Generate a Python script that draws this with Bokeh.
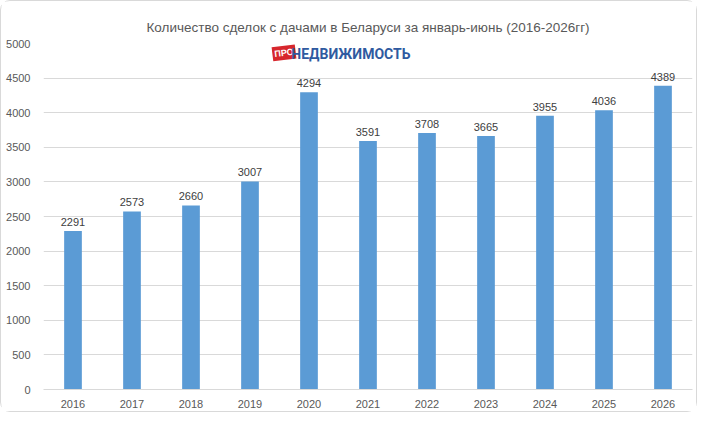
from bokeh.plotting import figure
from bokeh.models import ColumnDataSource, LabelSet, Label, SingleIntervalTicker, Range1d
from bokeh.core.properties import value
from bokeh.embed import file_html
from bokeh.resources import INLINE

years = ["2016", "2017", "2018", "2019", "2020", "2021", "2022", "2023", "2024", "2025", "2026"]
deals = [2291, 2573, 2660, 3007, 4294, 3591, 3708, 3665, 3955, 4036, 4389]
title_text = "Количество сделок с дачами в Беларуси за январь-июнь (2016-2026гг)"

source = ColumnDataSource(data=dict(year=years, deals=deals, label=[str(v) for v in deals]))

FONT = "Liberation Sans"
p = figure(x_range=years, y_range=Range1d(0, 5000),
           width=697, height=412,
           output_backend="svg", toolbar_location=None,
           min_border_left=42, min_border_right=6, min_border_bottom=24, min_border_top=42)

p.title.text = title_text
p.title.align = "center"
p.title.text_font = FONT
p.title.text_font_size = "13.5px"
p.title.text_font_style = "normal"
p.title.text_color = "#595959"
p.title.standoff = 18

p.vbar(x="year", top="deals", width=0.3, source=source, color="#5b9bd5", line_color=None)

labels = LabelSet(x="year", y="deals", text="label", source=source, y_offset=5,
                  text_align="center", text_font=value(FONT), text_font_size=value("11px"),
                  text_color="#404040")
p.add_layout(labels)

# logo
p.add_layout(Label(x=3.88, y=4845, text="ПРО", text_font=FONT, text_font_style="bold",
                   text_font_size="9px", text_color="white", background_fill_color="#d7272d",
                   text_align="left", text_baseline="middle", angle=0.12, padding=2))
p.add_layout(Label(x=4.2, y=4845, text="НЕДВИЖИМОСТЬ", text_font="Roboto",
                   text_font_style="bold", text_font_size="14px", text_color="#2f5aa0",
                   text_align="left", text_baseline="middle"))

p.yaxis.ticker = SingleIntervalTicker(interval=500)
p.yaxis.axis_line_color = None
p.yaxis.major_tick_line_color = None
p.yaxis.minor_tick_line_color = None
p.yaxis.major_tick_out = 0
p.yaxis.major_tick_in = 0
p.yaxis.major_label_text_font = FONT
p.yaxis.major_label_text_font_size = "11px"
p.yaxis.major_label_text_color = "#595959"
p.yaxis.major_label_standoff = 9

p.xaxis.axis_line_color = "#d9d9d9"
p.xaxis.major_tick_line_color = None
p.xaxis.minor_tick_line_color = None
p.xaxis.major_tick_out = 0
p.xaxis.major_tick_in = 0
p.xaxis.major_label_text_font = FONT
p.xaxis.major_label_text_font_size = "11px"
p.xaxis.major_label_text_color = "#595959"
p.xaxis.major_label_standoff = 10

p.xgrid.grid_line_color = None
p.ygrid.grid_line_color = "#d9d9d9"
p.outline_line_color = None
p.x_range.range_padding = 0.0

p.styles = {"border": "1px solid #d9d9d9", "border-radius": "10px"}

open("out.html", "w").write(file_html(p, INLINE))
